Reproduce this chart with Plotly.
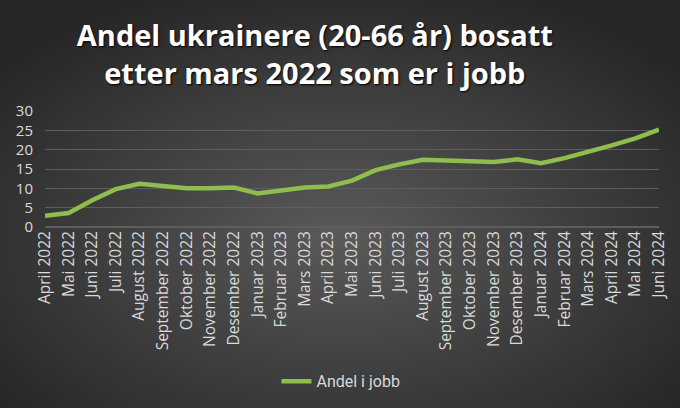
import base64
import plotly.graph_objects as go

# Months from April 2022 to June 2024
months = [
    'April 2022', 'Mai 2022', 'Juni 2022', 'Juli 2022', 'August 2022',
    'September 2022', 'Oktober 2022', 'November 2022', 'Desember 2022',
    'Januar 2023', 'Februar 2023', 'Mars 2023', 'April 2023', 'Mai 2023',
    'Juni 2023', 'Juli 2023', 'August 2023', 'September 2023', 'Oktober 2023',
    'November 2023', 'Desember 2023', 'Januar 2024', 'Februar 2024',
    'Mars 2024', 'April 2024', 'Mai 2024', 'Juni 2024'
]

# Share of Ukrainians (20-66) in work, percent
andel_i_jobb = [
    2.9, 3.6, 6.9, 9.8, 11.2, 10.7, 10.0, 10.0, 10.2,
    8.7, 9.5, 10.2, 10.5, 12.0, 14.7, 16.2, 17.4, 17.2, 16.8,
    16.8, 17.5, 16.5, 17.8, 19.3, 21.1, 22.9, 25.2
]

y_ticks = [0, 5, 10, 15, 20, 25, 30]

# Radial gradient background (like the Excel chart style)
svg = (
    '<svg xmlns="http://www.w3.org/2000/svg" width="680" height="408">'
    '<defs><radialGradient id="g" cx="50%" cy="58%" r="65%">'
    '<stop offset="0%" stop-color="#5a5a5a"/>'
    '<stop offset="100%" stop-color="#262626"/>'
    '</radialGradient></defs>'
    '<rect width="680" height="408" fill="url(#g)"/></svg>'
)
bg_src = 'data:image/svg+xml;base64,' + base64.b64encode(svg.encode()).decode()

W, H = 680, 408
ml, mr, mt, mb = 45, 21, 111, 181
pw, ph = W - ml - mr, H - mt - mb

fig = go.Figure()

fig.add_trace(go.Scatter(
    x=months,
    y=andel_i_jobb,
    mode='lines',
    name='Andel i jobb',
    line=dict(color='#8fbd4e', width=4.5),
))

fig.update_layout(
    width=W,
    height=H,
    margin=dict(l=ml, r=mr, t=mt, b=mb, autoexpand=False),
    paper_bgcolor='#3a3a3a',
    plot_bgcolor='rgba(0,0,0,0)',
    title=dict(
        text='Andel ukrainere (20-66 år) bosatt<br>etter mars 2022 som er i jobb',
        x=0.463, xanchor='center',
        y=0.887, yanchor='top',
        font=dict(family='Open Sans', size=29, color='white', weight='bold',
                  shadow='1px 1px 2px #000'),
    ),
    showlegend=True,
    legend=dict(
        orientation='h',
        x=0.482, xanchor='center',
        y=-1.33, yanchor='middle',
        font=dict(family='Liberation Sans Narrow, Roboto', size=16, color='#d9d9d9'),
        bgcolor='rgba(0,0,0,0)',
    ),
    images=[dict(
        source=bg_src,
        xref='paper', yref='paper',
        x=-ml / pw, y=1 + mt / ph,
        sizex=W / pw, sizey=H / ph,
        xanchor='left', yanchor='top',
        sizing='stretch',
        layer='below',
    )],
)

fig.update_xaxes(
    tickangle=-90,
    tickfont=dict(family='Open Sans', size=15.5, color='#d9d9d9'),
    showgrid=False,
    showline=False,
    ticks='',
    automargin=False,
)

fig.update_yaxes(
    range=[0, 30],
    tickvals=y_ticks,
    tickfont=dict(family='Open Sans', size=15, color='#d9d9d9'),
    ticklabelstandoff=11,
    gridcolor='#5e5e5e',
    gridwidth=1,
    zeroline=True,
    zerolinecolor='#5e5e5e',
    showline=False,
    ticks='',
    automargin=False,
)

# drop the default page margin so the figure sits at the window corner
fig.write_html('out.html',
               config={'displayModeBar': False},
               post_script="document.body.style.margin='0';"
                           "document.body.style.overflow='hidden';")
